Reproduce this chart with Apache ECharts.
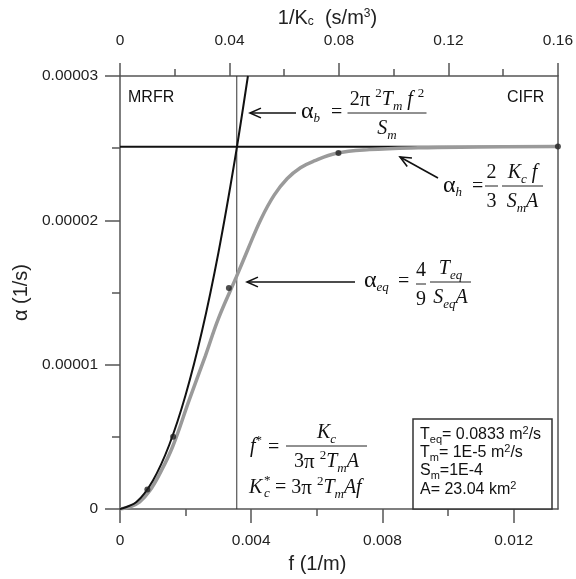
<!DOCTYPE html>
<html>
<head>
<meta charset="utf-8">
<script src="https://cdn.jsdelivr.net/npm/echarts@6/dist/echarts.min.js"></script>
<style>
  html, body { margin: 0; padding: 0; background: #fff; }
  #chart { width: 576px; height: 579px; }
</style>
</head>
<body>
<div id="chart"></div>
<script>
// ---- axes ----
const fMax = 0.01335;                       // bottom axis: f (1/m)
const fMajorTicks = [0, 0.004, 0.008, 0.012];
const fMinorTicks = [0.002, 0.006, 0.010];
const invKcMax = 0.16;                      // top axis: 1/Kc (s/m^3)
const invKcInterval = 0.04;
const alphaMax = 0.00003;                   // left axis: alpha (1/s)
const alphaInterval = 0.00001;

// ---- reference levels ----
const alphaH = 0.0000251;                   // plateau alpha_h
const fStar = 0.00356;                      // f* where alpha_b meets alpha_h

// ---- alpha_b curve (black) ----
const bF     = [0, 0.0005, 0.001, 0.0015, 0.002, 0.0025, 0.003, 0.0035, 0.0039];
const bAlpha = [0, 4.9e-7, 1.97e-6, 4.44e-6, 7.9e-6, 1.233e-5, 1.776e-5, 2.418e-5, 3.0e-5];

// ---- alpha_eq curve (grey) ----
const eqF     = [0, 0.0003, 0.0006, 0.0009, 0.0012, 0.0016, 0.0021, 0.0026, 0.0030, 0.00355,
                 0.0039, 0.0043, 0.0047, 0.0051, 0.0055, 0.0059, 0.0066, 0.0076, 0.0091, 0.0109, 0.01335];
const eqAlpha = [0, 1.5e-7, 5.0e-7, 1.25e-6, 2.4e-6, 4.3e-6, 7.5e-6, 1.06e-5, 1.32e-5, 1.61e-5,
                 1.80e-5, 2.01e-5, 2.175e-5, 2.29e-5, 2.365e-5, 2.41e-5, 2.465e-5, 2.49e-5, 2.503e-5, 2.508e-5, 2.512e-5];

// ---- simulated points ----
const ptF     = [0.000834, 0.00162, 0.00332, 0.00666, 0.01335];
const ptAlpha = [1.36e-6, 5.01e-6, 1.531e-5, 2.467e-5, 2.512e-5];

const zip = (xs, ys) => xs.map((x, i) => [x, ys[i]]);

const SANS = 'Liberation Sans';
const SERIF = 'Liberation Serif';
const AXIS = '#555';
const TXT = '#222';

// ---- math-like annotation helpers ----
const mathRich = {
  i: { fontFamily: SERIF, fontStyle: 'italic', fontSize: 20 },
  a: { fontFamily: SERIF, fontSize: 24 },
  g: { fontFamily: SERIF, fontSize: 21 },
  s: { fontFamily: SERIF, fontStyle: 'italic', fontSize: 13, lineHeight: 13, verticalAlign: 'bottom' },
  p: { fontFamily: SERIF, fontSize: 13, lineHeight: 13, verticalAlign: 'top' }
};
function math(x, y, text, align, size) {
  return {
    type: 'text', x: x, y: y, z: 100,
    style: {
      text: text, fontFamily: SERIF, fontSize: size || 20, lineHeight: 26, fill: '#111',
      align: align || 'left', verticalAlign: 'middle', rich: mathRich
    }
  };
}
function hbar(x1, x2, y) {
  return { type: 'line', z: 100, shape: { x1: x1, y1: y, x2: x2, y2: y }, style: { stroke: '#222', lineWidth: 1 } };
}
function frac(cx, y, w, num, den) {
  return [math(cx, y - 13, num, 'center'), hbar(cx - w / 2, cx + w / 2, y), math(cx, y + 16, den, 'center')];
}
function arrow(x1, y1, x2, y2) {
  const ang = Math.atan2(y2 - y1, x2 - x1), L = 12, W = 0.42;
  const a1 = [x2 - L * Math.cos(ang - W), y2 - L * Math.sin(ang - W)];
  const a2 = [x2 - L * Math.cos(ang + W), y2 - L * Math.sin(ang + W)];
  return [
    { type: 'line', z: 100, shape: { x1: x1, y1: y1, x2: x2, y2: y2 }, style: { stroke: '#111', lineWidth: 1.6 } },
    { type: 'polyline', z: 100, shape: { points: [a1, [x2, y2], a2] }, style: { stroke: '#111', lineWidth: 1.6, fill: null } }
  ];
}
const boxRich = {
  s: { fontFamily: SANS, fontSize: 11, lineHeight: 11, verticalAlign: 'bottom' },
  p: { fontFamily: SANS, fontSize: 11, lineHeight: 11, verticalAlign: 'top' }
};
function boxLine(y, text) {
  return {
    type: 'text', x: 420, y: y, z: 100,
    style: { text: text, fontFamily: SANS, fontSize: 16, lineHeight: 20, fill: '#111', align: 'left', verticalAlign: 'middle', rich: boxRich }
  };
}
function label(x, y, text) {
  return { type: 'text', x: x, y: y, z: 100,
    style: { text: text, fontFamily: SANS, fontSize: 16, fill: '#111', align: 'left', verticalAlign: 'middle' } };
}

const graphics = [].concat(
  [label(128, 98, 'MRFR'), label(507, 98, 'CIFR')],
  // alpha_b
  arrow(296, 113, 250, 113),
  [math(301, 112, '{a|α}{s|b}'), math(331, 113, '=')],
  frac(387, 113, 79, '2{g|π} {p|2}{i|T}{s|m}{i| f} {p|2}', '{i|S}{s|m}'),
  // alpha_h
  arrow(438, 178, 400, 157),
  [math(443, 186, '{a|α}{s|h}'), math(472, 187, '=')],
  frac(491.5, 186, 13, '2', '3'),
  frac(522.5, 186, 41, '{i|K}{s|c}{i| f}', '{i|S}{s|m}{i|A}'),
  // alpha_eq
  arrow(355, 282, 247, 282),
  [math(364, 281, '{a|α}{s|eq}'), math(398, 282, '=')],
  frac(421, 284, 10, '4', '9'),
  frac(450.5, 282, 41, '{i|T}{s|eq}', '{i|S}{s|eq}{i|A}'),
  // f* and Kc*
  [math(250, 447, '{i|f}{p|*}'), math(268, 448, '=')],
  frac(326.5, 446, 81, '{i|K}{s|c}', '3{g|π} {p|2}{i|T}{s|m}{i|A}'),
  [math(249, 488, '{i|K}'),
   math(264, 481, '*', 'left', 13),
   math(264, 494, '{s|c}', 'left', 13),
   math(275, 488, '= 3{g|π} {p|2}{i|T}{s|m}{i|Af}')],
  // parameter box
  [{ type: 'rect', z: 99, shape: { x: 413, y: 419, width: 139, height: 90 },
     style: { fill: '#fff', stroke: '#333', lineWidth: 1.5 } },
   boxLine(435, 'T{s|eq}= 0.0833 m{p|2}/s'),
   boxLine(453, 'T{s|m}= 1E-5 m{p|2}/s'),
   boxLine(471, 'S{s|m}=1E-4'),
   boxLine(490, 'A= 23.04 km{p|2}')]
);

const axisLineStyle = { color: AXIS, width: 1.5 };
const labelStyle = { color: TXT, fontFamily: SANS, fontSize: 15.5 };
const nameStyle = { color: TXT, fontFamily: SANS, fontSize: 20 };

const chart = echarts.init(document.getElementById('chart'), null, { renderer: 'canvas' });
chart.setOption({
  animation: false,
  backgroundColor: '#fff',
  grid: { left: 120, right: 17, top: 76, bottom: 63 },
  xAxis: [
    {
      type: 'value', position: 'bottom', min: 0, max: fMax,
      axisLine: { show: true, onZero: false, lineStyle: axisLineStyle },
      axisTick: { show: true, length: 14, customValues: fMajorTicks, lineStyle: axisLineStyle },
      axisLabel: { customValues: fMajorTicks, margin: 24, formatter: v => v === 0 ? '0' : String(+v.toFixed(3)), ...labelStyle },
      splitLine: { show: false },
      name: 'f (1/m)', nameLocation: 'middle', nameGap: 36,
      nameTextStyle: { ...nameStyle, padding: [0, 43, 0, 0] }
    },
    {
      type: 'value', position: 'top', min: 0, max: invKcMax, interval: invKcInterval,
      axisLine: { show: true, onZero: false, lineStyle: axisLineStyle },
      axisTick: { show: true, length: 13, lineStyle: axisLineStyle },
      minorTick: { show: true, splitNumber: 2, length: 7, lineStyle: axisLineStyle },
      axisLabel: { margin: 27, formatter: v => v === 0 ? '0' : String(+v.toFixed(2)), ...labelStyle },
      splitLine: { show: false },
      name: '1/K{sub|c}  (s/m{sup|3})', nameLocation: 'middle', nameGap: 46,
      nameTextStyle: {
        ...nameStyle, padding: [0, 23, 0, 0],
        rich: {
          sub: { fontFamily: SANS, fontSize: 12, lineHeight: 12, verticalAlign: 'bottom', color: TXT },
          sup: { fontFamily: SANS, fontSize: 12, lineHeight: 12, verticalAlign: 'top', color: TXT }
        }
      }
    },
    {
      type: 'value', position: 'bottom', min: 0, max: fMax,
      axisLine: { show: false },
      axisTick: { show: true, length: 7, customValues: fMinorTicks, lineStyle: axisLineStyle },
      axisLabel: { show: false },
      splitLine: { show: false }
    }
  ],
  yAxis: [
    {
      type: 'value', position: 'left', min: 0, max: alphaMax, interval: alphaInterval,
      axisLine: { show: true, onZero: false, lineStyle: axisLineStyle },
      axisTick: { show: true, length: 15, lineStyle: axisLineStyle },
      minorTick: { show: true, splitNumber: 2, length: 8, lineStyle: axisLineStyle },
      axisLabel: { margin: 22, formatter: v => v === 0 ? '0' : v.toFixed(5), ...labelStyle },
      splitLine: { show: false },
      name: 'α (1/s)', nameLocation: 'middle', nameGap: 83, nameRotate: 90,
      nameTextStyle: nameStyle
    },
    {
      type: 'value', position: 'right', min: 0, max: alphaMax,
      axisLine: { show: true, onZero: false, lineStyle: axisLineStyle },
      axisTick: { show: false }, axisLabel: { show: false }, splitLine: { show: false }
    }
  ],
  series: [
    { type: 'line', data: [[0, alphaH], [fMax, alphaH]], showSymbol: false,
      lineStyle: { color: '#111', width: 2 }, z: 2 },
    { type: 'line', data: [[fStar, 0], [fStar, alphaMax]], showSymbol: false,
      lineStyle: { color: '#333', width: 1 }, z: 2 },
    { type: 'line', data: zip(eqF, eqAlpha), showSymbol: false, smooth: 0.4,
      lineStyle: { color: '#9a9a9a', width: 3.5 }, z: 3 },
    { type: 'line', data: zip(bF, bAlpha), showSymbol: false, smooth: 0.3,
      lineStyle: { color: '#111', width: 2 }, z: 4 },
    { type: 'scatter', data: zip(ptF, ptAlpha), symbolSize: 6, clip: false,
      itemStyle: { color: '#222' }, z: 5 }
  ],
  graphic: graphics
});
</script>
</body>
</html>
